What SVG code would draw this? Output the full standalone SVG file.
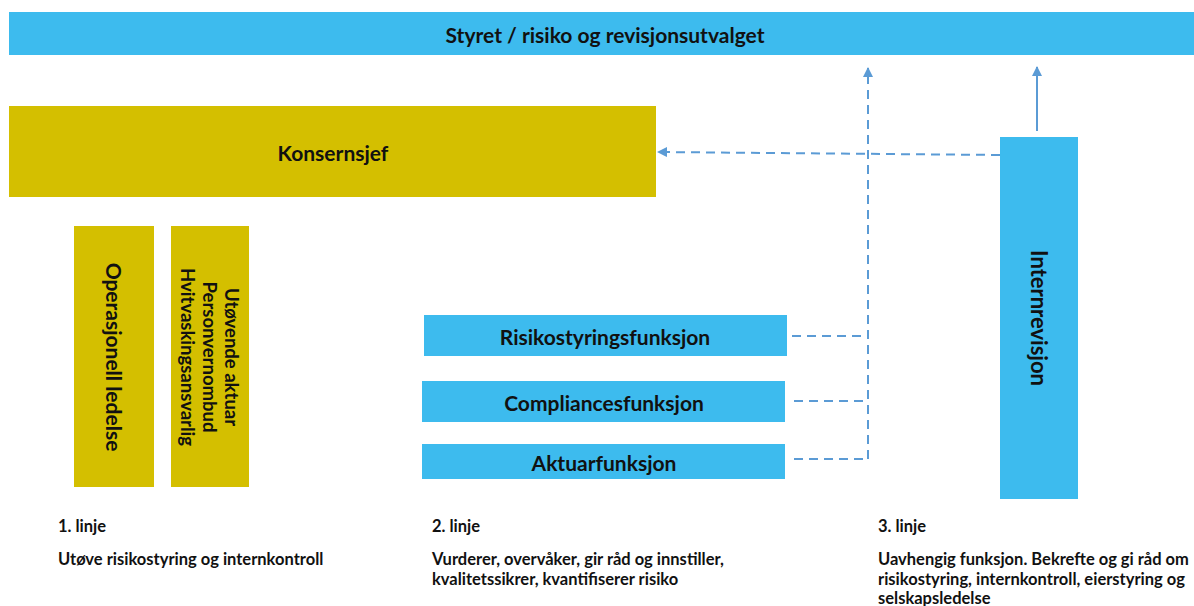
<svg xmlns="http://www.w3.org/2000/svg" width="1194" height="606" viewBox="0 0 1194 606">
<style>
.blue{fill:#3dbbee}
.yel{fill:#d4bf00}
.t{font-family:Lato,"Open Sans",sans-serif;font-weight:bold;fill:#111;}
.big{font-size:21px;text-anchor:middle;dominant-baseline:central}
.mid{font-size:18.5px;text-anchor:middle;dominant-baseline:central}
.sm{font-size:16.5px}
.dash{stroke:#5b9bd5;stroke-width:2;stroke-dasharray:9,6;fill:none}
.solid{stroke:#5b9bd5;stroke-width:2;fill:none}
</style>
<defs>
<marker id="ah" viewBox="0 0 10 10" refX="9" refY="5" markerWidth="5" markerHeight="5" orient="auto">
<path d="M0,0 L10,5 L0,10 z" fill="#5b9bd5"/>
</marker>
</defs>
<rect width="1194" height="606" fill="#fff"/>
<g id="styret">
<rect class="blue" x="9" y="12" width="1185" height="43"/>
<text class="t big" x="605" y="34">Styret / risiko og revisjonsutvalget</text>
</g>
<g id="konsernsjef">
<rect class="yel" x="9" y="106" width="647" height="91"/>
<text class="t big" x="333" y="152">Konsernsjef</text>
</g>
<g id="operasjonell">
<rect class="yel" x="74" y="226" width="80" height="261"/>
<text class="t big" transform="translate(114,357) rotate(90)">Operasjonell ledelse</text>
</g>
<g id="utovende">
<rect class="yel" x="171" y="226" width="78" height="261"/>
<text class="t mid" transform="translate(232,357) rotate(90)">Utøvende aktuar</text>
<text class="t mid" transform="translate(210,357) rotate(90)">Personvernombud</text>
<text class="t mid" transform="translate(188,357) rotate(90)">Hvitvaskingsansvarlig</text>
</g>
<g id="risikostyring">
<rect class="blue" x="424" y="315" width="363" height="41"/>
<text class="t big" x="605" y="336">Risikostyringsfunksjon</text>
</g>
<g id="compliance">
<rect class="blue" x="422" y="381" width="363" height="41"/>
<text class="t big" x="604" y="402">Compliancesfunksjon</text>
</g>
<g id="aktuar">
<rect class="blue" x="422" y="444" width="363" height="35"/>
<text class="t big" x="604" y="462">Aktuarfunksjon</text>
</g>
<g id="internrevisjon">
<rect class="blue" x="1000" y="137" width="78" height="362"/>
<text class="t" style="font-size:22px;text-anchor:middle;dominant-baseline:central" transform="translate(1039,318) rotate(90)">Internrevisjon</text>
</g>
<g id="connectors">
<path class="dash" d="M868,459 L868,68" marker-end="url(#ah)"/>
<path class="dash" d="M792,336 L868,336"/>
<path class="dash" d="M794,401 L868,401"/>
<path class="dash" d="M794,459 L868,459"/>
<path class="dash" d="M1000,155 L658,152" marker-end="url(#ah)"/>
<path class="solid" d="M1037,131 L1037,67" marker-end="url(#ah)"/>
</g>
<g id="labels">
<text class="t sm" x="58" y="532">1. linje</text>
<text class="t sm" x="58" y="565">Utøve risikostyring og internkontroll</text>
<text class="t sm" x="432" y="532">2. linje</text>
<text class="t sm" x="432" y="565">Vurderer, overvåker, gir råd og innstiller,</text>
<text class="t sm" x="432" y="585">kvalitetssikrer, kvantifiserer risiko</text>
<text class="t sm" x="878" y="532">3. linje</text>
<text class="t sm" x="878" y="565">Uavhengig funksjon. Bekrefte og gi råd om</text>
<text class="t sm" x="878" y="585">risikostyring, internkontroll, eierstyring og</text>
<text class="t sm" x="878" y="604">selskapsledelse</text>
</g>
</svg>
